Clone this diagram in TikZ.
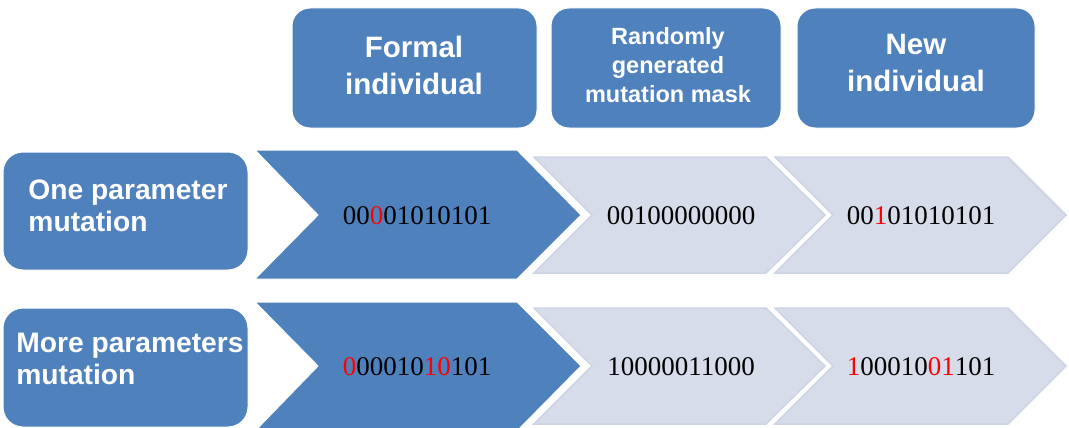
\documentclass[tikz,border=0pt]{standalone}
\usepackage{fontspec}
\setmainfont{Liberation Serif}
\newfontfamily\headfont{Liberation Sans}
\definecolor{accent}{HTML}{4F81BD}
\definecolor{pale}{HTML}{D6DCE9}
\definecolor{paleedge}{HTML}{CCD4E5}
\definecolor{flip}{HTML}{FF0000}
\newcommand{\hl}[1]{\textcolor{flip}{#1}}

\begin{document}
\begin{tikzpicture}[x=1pt,y=-1pt,
  headbox/.style={fill=accent, draw=white, line width=1pt, rounded corners=18pt,
    inner sep=0pt},
  sidebox/.style={fill=accent, draw=white, line width=1pt, rounded corners=20pt,
    inner sep=0pt},
  darkchev/.style={fill=accent, draw=white, line width=1pt},
  palechev/.style={fill=pale, draw=paleedge, line width=1.5pt, line join=miter},
  headtext/.style={text=white, inner sep=0pt, align=center,
    font=\headfont\bfseries\fontsize{29.5}{37}\selectfont},
  smalltext/.style={text=white, inner sep=0pt, align=center,
    font=\headfont\bfseries\fontsize{23.5}{29}\selectfont},
  sidetext/.style={text=white, inner sep=0pt, align=left,
    font=\headfont\bfseries\fontsize{28.2}{32}\selectfont},
  bits/.style={text=black, inner sep=0pt, anchor=base,
    font=\fontsize{27}{30}\selectfont},
]
\useasboundingbox (0,0) rectangle (1069,428);

% column headers
\node[headbox, minimum width=245pt, minimum height=120pt] (hformal) at (414.5,68) {};
\node[headbox, minimum width=230pt, minimum height=120pt] (hmask) at (666,68) {};
\node[headbox, minimum width=238pt, minimum height=120pt] (hnew) at (916,68) {};
\node[headtext] (tformal) at (414,65) {Formal\\individual};
\node[smalltext] (tmask) at (668,65.5) {Randomly\\generated\\mutation mask};
\node[headtext] (tnew) at (916,63) {New\\individual};

% row headers
\node[sidebox, minimum width=245pt, minimum height=118pt] (rone) at (125.5,211) {};
\node[sidebox, minimum width=245pt, minimum height=119pt] (rmore) at (125.5,367.5) {};
\node[sidetext] (tone) at (128,206) {One parameter\\mutation};
\node[sidetext] (tmore) at (130,359) {More parameters\\mutation};

% chevrons, row 1 (centre line y = 215)
\draw[darkchev] (255,150) -- (517,150) -- (581,215) -- (517,279) -- (255,279) -- (318,215) -- cycle;
\draw[palechev] (534,157) -- (766,157) -- (825,215) -- (766,273) -- (534,273) -- (592,215) -- cycle;
\draw[palechev] (775,157) -- (1008,157) -- (1066,215) -- (1008,273) -- (775,273) -- (833,215) -- cycle;

% chevrons, row 2 (centre line y = 366)
\draw[darkchev] (255,302) -- (517,302) -- (581,366) -- (517,431) -- (255,431) -- (318,366) -- cycle;
\draw[palechev] (534,308) -- (766,308) -- (825,366) -- (766,424) -- (534,424) -- (592,366) -- cycle;
\draw[palechev] (775,308) -- (1008,308) -- (1066,366) -- (1008,424) -- (775,424) -- (833,366) -- cycle;

% bit strings
\node[bits] (oneold) at (417,224) {00\hl{0}01010101};
\node[bits] (onemask) at (681,224) {00100000000};
\node[bits] (onenew) at (921,224) {00\hl{1}01010101};
\node[bits] (moreold) at (417,375.5) {\hl{0}00010\hl{10}101};
\node[bits] (moremask) at (681,375.5) {10000011000};
\node[bits] (morenew) at (921,375.5) {\hl{1}00010\hl{01}101};
\end{tikzpicture}
\end{document}
